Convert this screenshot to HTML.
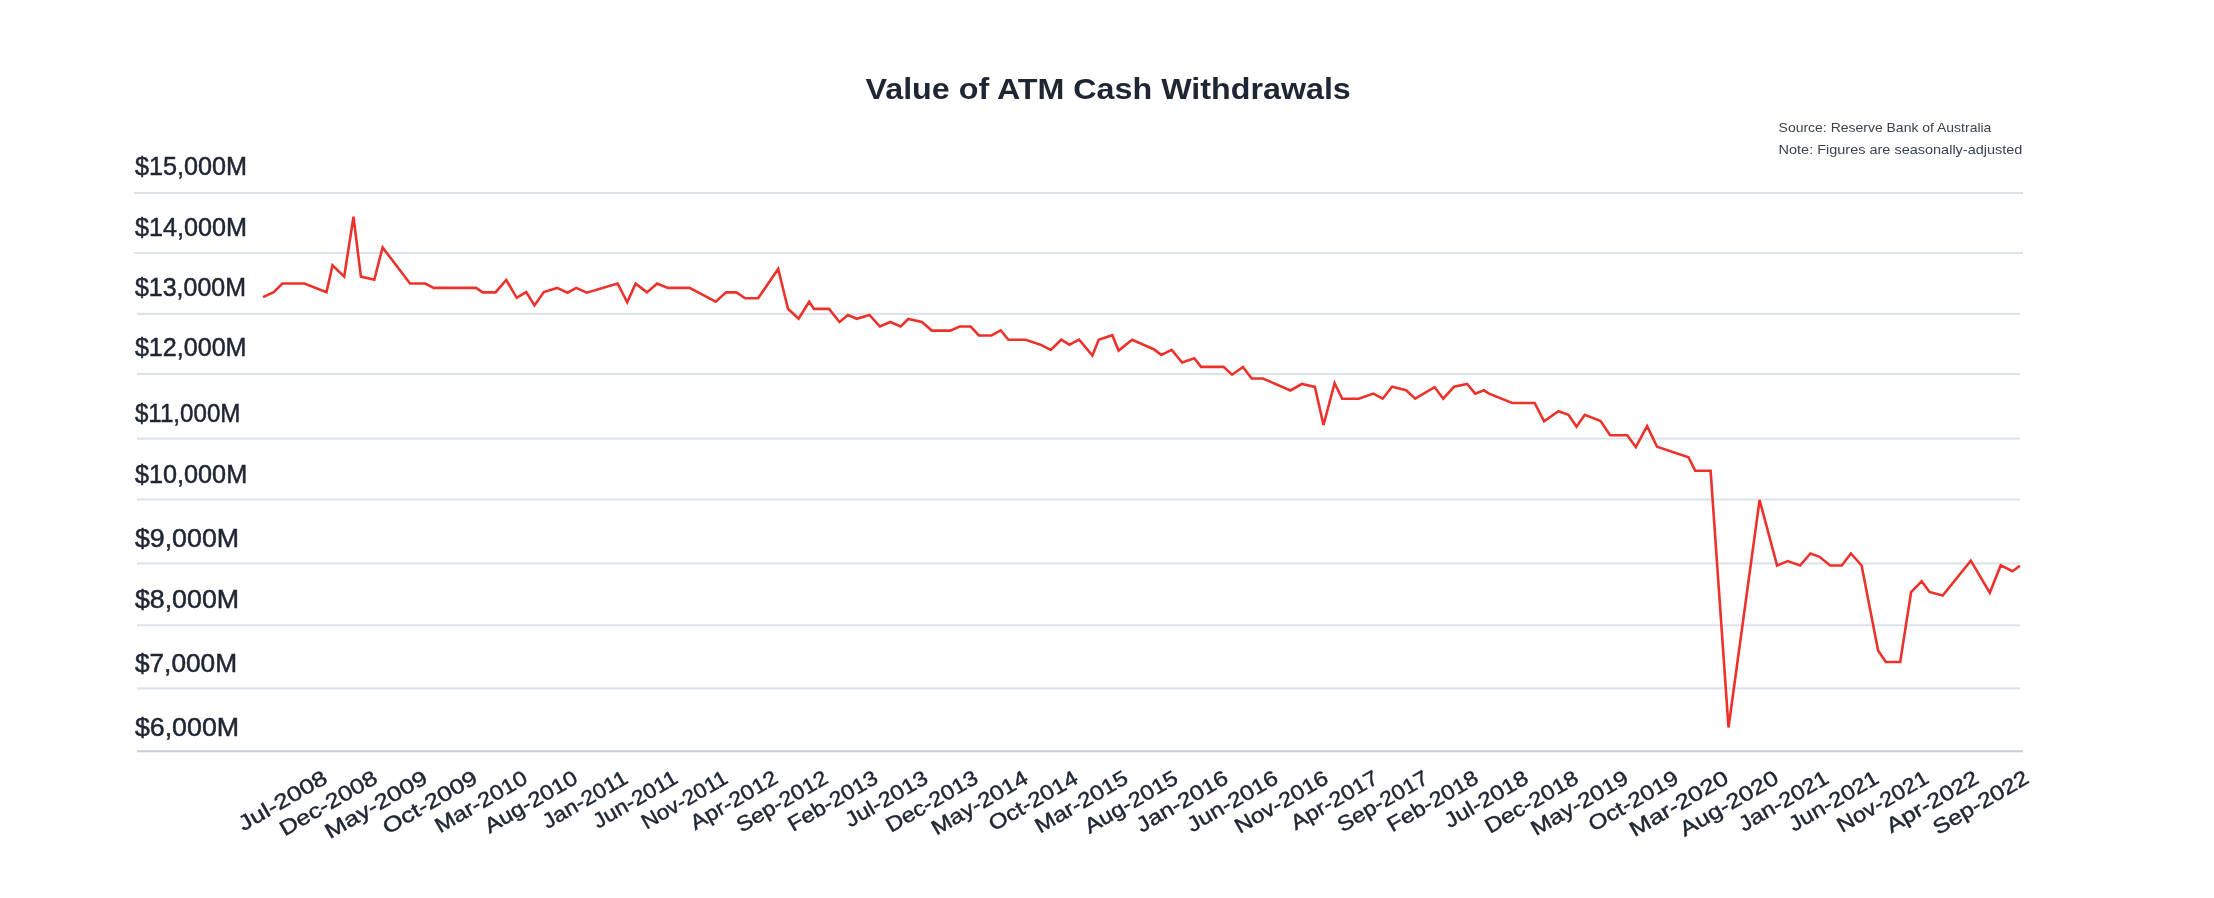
<!DOCTYPE html><html><head><meta charset="utf-8"><title>Value of ATM Cash Withdrawals</title><style>
html,body{margin:0;padding:0;background:#fff;width:2214px;height:898px;overflow:hidden}
svg{display:block;will-change:transform}
text{font-family:"Liberation Sans", Arial, sans-serif}
.yl{font-size:25px;fill:#1f2633;stroke:#1f2633;stroke-width:0.5}
.xl{font-size:21px;fill:#1f2633;stroke:#1f2633;stroke-width:0.45}
.src{font-size:13.5px;fill:#3a4150}
</style></head><body>
<svg width="2214" height="898" viewBox="0 0 2214 898">
<rect width="2214" height="898" fill="#fff"/>
<text x="865.5" y="98.8" font-size="30" font-weight="bold" fill="#1f2633" textLength="485.3" lengthAdjust="spacingAndGlyphs">Value of ATM Cash Withdrawals</text>
<text class="src" x="1778.6" y="132" textLength="212.8" lengthAdjust="spacingAndGlyphs">Source: Reserve Bank of Australia</text>
<text class="src" x="1778.6" y="154" textLength="243.8" lengthAdjust="spacingAndGlyphs">Note: Figures are seasonally-adjusted</text>
<rect x="134" y="192.0" width="1889" height="2" fill="#dbe2eb"/>
<rect x="134" y="251.9" width="1889" height="2" fill="#dbe2eb"/>
<rect x="137" y="312.9" width="1883" height="2" fill="#dbe2eb"/>
<rect x="137" y="373.0" width="1883" height="2" fill="#dbe2eb"/>
<rect x="137" y="437.6" width="1883" height="2" fill="#dbe2eb"/>
<rect x="137" y="498.5" width="1883" height="2" fill="#dbe2eb"/>
<rect x="137" y="562.4" width="1883" height="2" fill="#dbe2eb"/>
<rect x="137" y="624.3" width="1883" height="2" fill="#dbe2eb"/>
<rect x="137" y="687.4" width="1883" height="2" fill="#dbe2eb"/>
<rect x="137" y="750.3" width="1886" height="2" fill="#c5ccd6"/>
<text class="yl" x="134.9" y="175.2" textLength="112.1" lengthAdjust="spacingAndGlyphs">$15,000M</text>
<text class="yl" x="134.9" y="235.9" textLength="112.1" lengthAdjust="spacingAndGlyphs">$14,000M</text>
<text class="yl" x="134.9" y="295.9" textLength="111.1" lengthAdjust="spacingAndGlyphs">$13,000M</text>
<text class="yl" x="134.9" y="355.8" textLength="111.6" lengthAdjust="spacingAndGlyphs">$12,000M</text>
<text class="yl" x="134.9" y="421.6" textLength="105.5" lengthAdjust="spacingAndGlyphs">$11,000M</text>
<text class="yl" x="134.9" y="483.0" textLength="112.3" lengthAdjust="spacingAndGlyphs">$10,000M</text>
<text class="yl" x="134.9" y="546.5" textLength="104.2" lengthAdjust="spacingAndGlyphs">$9,000M</text>
<text class="yl" x="134.9" y="608.3" textLength="104.2" lengthAdjust="spacingAndGlyphs">$8,000M</text>
<text class="yl" x="134.9" y="671.6" textLength="102.2" lengthAdjust="spacingAndGlyphs">$7,000M</text>
<text class="yl" x="134.9" y="735.6" textLength="104.2" lengthAdjust="spacingAndGlyphs">$6,000M</text>
<text class="xl" text-anchor="end" textLength="98.9" lengthAdjust="spacingAndGlyphs" transform="translate(329.00 782.0) rotate(-30)">Jul-2008</text>
<text class="xl" text-anchor="end" textLength="109.0" lengthAdjust="spacingAndGlyphs" transform="translate(379.04 782.0) rotate(-30)">Dec-2008</text>
<text class="xl" text-anchor="end" textLength="114.5" lengthAdjust="spacingAndGlyphs" transform="translate(429.08 782.0) rotate(-30)">May-2009</text>
<text class="xl" text-anchor="end" textLength="105.4" lengthAdjust="spacingAndGlyphs" transform="translate(479.12 782.0) rotate(-30)">Oct-2009</text>
<text class="xl" text-anchor="end" textLength="103.0" lengthAdjust="spacingAndGlyphs" transform="translate(529.16 782.0) rotate(-30)">Mar-2010</text>
<text class="xl" text-anchor="end" textLength="103.7" lengthAdjust="spacingAndGlyphs" transform="translate(579.20 782.0) rotate(-30)">Aug-2010</text>
<text class="xl" text-anchor="end" textLength="94.3" lengthAdjust="spacingAndGlyphs" transform="translate(629.24 782.0) rotate(-30)">Jan-2011</text>
<text class="xl" text-anchor="end" textLength="93.8" lengthAdjust="spacingAndGlyphs" transform="translate(679.28 782.0) rotate(-30)">Jun-2011</text>
<text class="xl" text-anchor="end" textLength="95.7" lengthAdjust="spacingAndGlyphs" transform="translate(729.32 782.0) rotate(-30)">Nov-2011</text>
<text class="xl" text-anchor="end" textLength="97.0" lengthAdjust="spacingAndGlyphs" transform="translate(779.36 782.0) rotate(-30)">Apr-2012</text>
<text class="xl" text-anchor="end" textLength="101.4" lengthAdjust="spacingAndGlyphs" transform="translate(829.40 782.0) rotate(-30)">Sep-2012</text>
<text class="xl" text-anchor="end" textLength="99.8" lengthAdjust="spacingAndGlyphs" transform="translate(879.44 782.0) rotate(-30)">Feb-2013</text>
<text class="xl" text-anchor="end" textLength="91.7" lengthAdjust="spacingAndGlyphs" transform="translate(929.48 782.0) rotate(-30)">Jul-2013</text>
<text class="xl" text-anchor="end" textLength="102.2" lengthAdjust="spacingAndGlyphs" transform="translate(979.52 782.0) rotate(-30)">Dec-2013</text>
<text class="xl" text-anchor="end" textLength="107.6" lengthAdjust="spacingAndGlyphs" transform="translate(1029.56 782.0) rotate(-30)">May-2014</text>
<text class="xl" text-anchor="end" textLength="99.1" lengthAdjust="spacingAndGlyphs" transform="translate(1079.60 782.0) rotate(-30)">Oct-2014</text>
<text class="xl" text-anchor="end" textLength="103.6" lengthAdjust="spacingAndGlyphs" transform="translate(1129.64 782.0) rotate(-30)">Mar-2015</text>
<text class="xl" text-anchor="end" textLength="104.2" lengthAdjust="spacingAndGlyphs" transform="translate(1179.68 782.0) rotate(-30)">Aug-2015</text>
<text class="xl" text-anchor="end" textLength="101.8" lengthAdjust="spacingAndGlyphs" transform="translate(1229.72 782.0) rotate(-30)">Jan-2016</text>
<text class="xl" text-anchor="end" textLength="101.3" lengthAdjust="spacingAndGlyphs" transform="translate(1279.76 782.0) rotate(-30)">Jun-2016</text>
<text class="xl" text-anchor="end" textLength="103.9" lengthAdjust="spacingAndGlyphs" transform="translate(1329.80 782.0) rotate(-30)">Nov-2016</text>
<text class="xl" text-anchor="end" textLength="97.1" lengthAdjust="spacingAndGlyphs" transform="translate(1379.84 782.0) rotate(-30)">Apr-2017</text>
<text class="xl" text-anchor="end" textLength="100.9" lengthAdjust="spacingAndGlyphs" transform="translate(1429.88 782.0) rotate(-30)">Sep-2017</text>
<text class="xl" text-anchor="end" textLength="101.1" lengthAdjust="spacingAndGlyphs" transform="translate(1479.92 782.0) rotate(-30)">Feb-2018</text>
<text class="xl" text-anchor="end" textLength="93.1" lengthAdjust="spacingAndGlyphs" transform="translate(1529.96 782.0) rotate(-30)">Jul-2018</text>
<text class="xl" text-anchor="end" textLength="103.8" lengthAdjust="spacingAndGlyphs" transform="translate(1580.00 782.0) rotate(-30)">Dec-2018</text>
<text class="xl" text-anchor="end" textLength="108.7" lengthAdjust="spacingAndGlyphs" transform="translate(1630.04 782.0) rotate(-30)">May-2019</text>
<text class="xl" text-anchor="end" textLength="99.9" lengthAdjust="spacingAndGlyphs" transform="translate(1680.08 782.0) rotate(-30)">Oct-2019</text>
<text class="xl" text-anchor="end" textLength="110.3" lengthAdjust="spacingAndGlyphs" transform="translate(1730.12 782.0) rotate(-30)">Mar-2020</text>
<text class="xl" text-anchor="end" textLength="110.2" lengthAdjust="spacingAndGlyphs" transform="translate(1780.16 782.0) rotate(-30)">Aug-2020</text>
<text class="xl" text-anchor="end" textLength="99.9" lengthAdjust="spacingAndGlyphs" transform="translate(1830.20 782.0) rotate(-30)">Jan-2021</text>
<text class="xl" text-anchor="end" textLength="99.9" lengthAdjust="spacingAndGlyphs" transform="translate(1880.24 782.0) rotate(-30)">Jun-2021</text>
<text class="xl" text-anchor="end" textLength="102.0" lengthAdjust="spacingAndGlyphs" transform="translate(1930.28 782.0) rotate(-30)">Nov-2021</text>
<text class="xl" text-anchor="end" textLength="102.8" lengthAdjust="spacingAndGlyphs" transform="translate(1980.32 782.0) rotate(-30)">Apr-2022</text>
<text class="xl" text-anchor="end" textLength="106.7" lengthAdjust="spacingAndGlyphs" transform="translate(2030.36 782.0) rotate(-30)">Sep-2022</text>
<path d="M263.0 297.1 L273.7 292.2 L282.4 283.5 L304.4 283.5 L326.5 292.2 L332.5 265.2 L344.2 276.6 L353.5 216.7 L360.9 276.6 L374.3 279.8 L382.6 247.4 L410.0 283.5 L425.3 283.5 L433.6 287.9 L476.0 287.9 L482.8 292.4 L495.5 292.4 L506.3 280.0 L516.7 297.8 L526.2 292.1 L534.5 305.5 L543.8 292.1 L557.1 287.9 L567.5 292.7 L576.3 287.9 L586.7 292.7 L617.6 283.5 L627.2 302.3 L635.6 283.6 L647.0 292.4 L657.2 283.6 L667.8 287.9 L689.5 287.9 L715.7 301.7 L726.1 292.4 L736.5 292.4 L745.1 298.3 L758.1 298.3 L778.2 268.9 L788.0 308.7 L798.6 318.8 L809.2 301.7 L813.9 308.9 L829.0 308.9 L839.5 322.0 L848.0 315.0 L856.7 318.8 L869.5 315.0 L879.9 326.5 L890.3 322.0 L900.7 326.5 L908.2 319.0 L921.9 322.0 L931.8 330.6 L950.3 330.6 L959.8 326.5 L970.7 326.5 L978.9 335.5 L991.5 335.4 L1000.7 330.3 L1008.4 339.7 L1025.6 339.7 L1040.5 344.7 L1050.8 349.9 L1061.2 339.7 L1069.4 344.7 L1079.1 339.7 L1092.4 355.6 L1098.7 339.7 L1112.3 335.2 L1118.6 350.6 L1132.1 339.7 L1153.7 349.2 L1161.3 354.9 L1171.7 349.9 L1182.1 362.5 L1194.3 358.2 L1201.0 366.9 L1223.6 366.9 L1232.0 374.7 L1243.0 367.0 L1251.6 378.5 L1262.9 378.5 L1290.5 390.5 L1301.8 384.0 L1314.9 386.9 L1323.5 425.0 L1334.6 383.1 L1342.2 398.7 L1358.7 398.7 L1373.4 393.6 L1382.7 398.7 L1392.1 386.8 L1406.1 390.3 L1415.2 398.7 L1434.6 387.1 L1443.2 398.7 L1454.0 386.8 L1467.1 383.9 L1475.2 393.6 L1483.9 390.3 L1489.1 393.6 L1512.1 403.0 L1534.7 403.0 L1544.1 421.4 L1558.4 411.2 L1568.5 414.8 L1576.5 426.8 L1584.8 414.8 L1600.6 421.1 L1610.1 435.3 L1627.2 435.3 L1635.8 447.0 L1647.1 426.1 L1657.1 446.7 L1688.5 457.2 L1695.2 470.7 L1710.6 470.7 L1728.5 727.5 L1759.6 500.0 L1777.1 565.5 L1787.7 561.1 L1800.1 565.5 L1810.4 553.5 L1819.5 556.8 L1830.2 565.5 L1841.8 565.5 L1850.9 553.5 L1861.6 565.5 L1878.1 650.6 L1885.8 662.0 L1900.2 662.0 L1911.1 592.0 L1921.7 581.3 L1929.5 591.9 L1942.7 595.6 L1970.8 560.7 L1989.8 592.7 L2000.7 565.4 L2012.5 571.2 L2019.9 565.7" fill="none" stroke="#eb332c" stroke-width="2.6" stroke-linejoin="miter" stroke-miterlimit="4"/>
</svg></body></html>
